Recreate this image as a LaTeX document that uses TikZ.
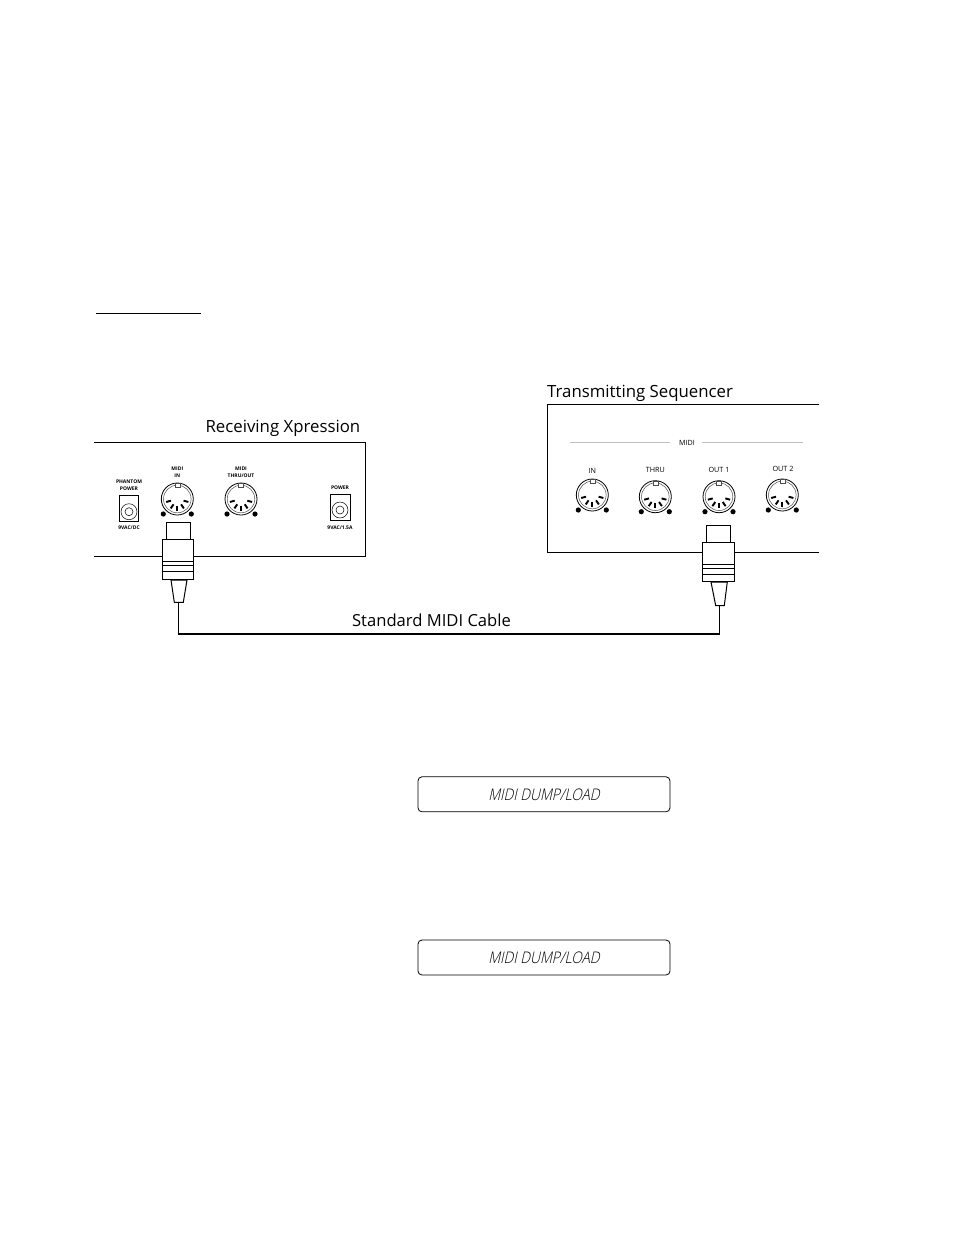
\documentclass[tikz,border=0pt]{standalone}
\usepackage{xcolor}
\usepackage{fontspec}
\setmainfont{Open Sans}
\newfontfamily\lcdfont[FakeSlant=0.22,FakeStretch=0.86]{Open Sans Light}
\usetikzlibrary{positioning,calc}
\tikzset{
  title/.style={inner sep=0pt,font=\fontsize{16.8}{17}\selectfont},
  tiny/.style={inner sep=0pt,align=center,font=\fontsize{7.2}{7.6}\selectfont},
  tinybold/.style={inner sep=0pt,align=center,font=\fontsize{5}{7.2}\bfseries\selectfont},
  lcd/.style={draw,line width=0.8pt,rounded corners=4pt,minimum width=252pt,minimum height=35pt,inner sep=0pt,font=\fontsize{16}{16}\lcdfont\selectfont},
  part/.style={draw,line width=1.1pt,inner sep=0pt,fill=white},
}
% five pin socket: name, x, y
\newcommand{\din}[3]{
  \coordinate (#1) at (#2,#3);
  \draw[line width=0.8pt] (#1) circle[radius=16];
  \draw[line width=0.5pt,black!70] (#1) circle[radius=13.8];
  \draw[line width=0.35pt,black!70,fill=white] ($(#1)+(-2.5,-15.5)$) rectangle ($(#1)+(2.5,-11.5)$);
  \foreach \a in {15,55,90,125,165}
    \draw[line width=1.9pt] ($(#1)+(\a:6.5)$) -- ($(#1)+(\a:11.5)$);
  \fill ($(#1)+(-14,15)$) circle[radius=2.6];
  \fill ($(#1)+(14,15)$) circle[radius=2.6];
}
\begin{document}
\begin{tikzpicture}[x=1pt,y=-1pt]
\useasboundingbox (0,0) rectangle (954,1235);
\fill[white] (0,0) rectangle (954,1235);
\draw[line width=0.9pt] (96,313) -- (201,313);

% receiving unit
\node[title,anchor=east] (recvtitle) at (360.5,428.5) {Receiving Xpression};
\draw[line width=1pt] (94,442.3) -- (365.7,442.3) -- (365.7,556.7) -- (94,556.7);
\node[tinybold] (phantomlabel) at (129,485.5) {PHANTOM\\POWER};
\node[draw,line width=0.7pt,minimum width=19.5pt,minimum height=26pt,inner sep=0pt] (phantomjack) at (129,508) {};
\draw[line width=0.5pt] (129,511.7) circle[radius=8];
\draw[line width=0.5pt] (129,511.7) circle[radius=4];
\node[tinybold] (phantomvolt) at (129,527.5) {9VAC/DC};
\node[tinybold] (midiinlabel) at (177.3,472.5) {MIDI\\IN};
\din{recvin}{177.3}{499}
\node[tinybold] (thruoutlabel) at (241,472.5) {MIDI\\THRU/OUT};
\din{recvthru}{241}{499}
\node[tinybold] (powerlabel) at (340,488) {POWER};
\node[draw,line width=0.7pt,minimum width=20pt,minimum height=26.5pt,inner sep=0pt] (powerjack) at (340,507.3) {};
\draw[line width=0.5pt] (340,510) circle[radius=8];
\draw[line width=0.5pt] (340,510) circle[radius=4];
\node[tinybold] (powervolt) at (340,527.5) {9VAC/1.5A};

% transmitting unit
\node[title,anchor=west] (sendtitle) at (547,393) {Transmitting Sequencer};
\draw[line width=1pt] (819,404.3) -- (547.3,404.3) -- (547.3,552.7) -- (819,552.7);
\node[tiny] (midilabel) at (687,442.7) {MIDI};
\draw[black!25,line width=0.5pt] (569.7,442.7) -- (669.7,442.7);
\draw[black!25,line width=0.5pt] (702,442.7) -- (802.7,442.7);
\node[tiny] (inlabel) at (592.3,471) {IN};
\node[tiny] (thrulabel) at (655.3,470) {THRU};
\node[tiny] (outonelabel) at (719,470) {OUT 1};
\node[tiny] (outtwolabel) at (783,468.5) {OUT 2};
\din{sendin}{592.3}{495}
\din{sendthru}{655.3}{496.7}
\din{sendout}{719}{496.7}
\din{sendouttwo}{782.3}{495}

% plugs
\node[part,minimum width=24.4pt,minimum height=16.5pt] (headl) at (178.5,530.8) {};
\node[part,minimum width=31.4pt,minimum height=40.3pt] (bodyl) at (178,559.2) {};
\draw[line width=1pt] (162.3,561) -- (193.7,561) (162.3,565.5) -- (193.7,565.5) (162.3,571.5) -- (193.7,571.5);
\draw[line width=1pt,fill=white] (171,580) -- (187,580) -- (183.3,602.3) -- (174.3,602.3) -- cycle;
\coordinate (tipl) at (178.7,602.3);
\node[part,minimum width=24pt,minimum height=16.6pt] (headr) at (718.7,534) {};
\node[part,minimum width=31.3pt,minimum height=39.4pt] (bodyr) at (718.4,562) {};
\draw[line width=1pt] (702.7,564) -- (734,564) (702.7,568) -- (734,568) (702.7,574.5) -- (734,574.5);
\draw[line width=1pt,fill=white] (711,582) -- (727.3,582) -- (724.3,605.5) -- (715.7,605.5) -- cycle;
\coordinate (tipr) at (719.7,605.5);

% cable
\coordinate (cornerl) at (178.7,634.4);
\coordinate (cornerr) at (719.7,634.4);
\draw[line width=1.1pt] (tipl) -- (cornerl);
\draw[line width=1.1pt] (tipr) -- (cornerr);
\draw[line width=2pt] ($(cornerl)+(-0.5,0)$) -- ($(cornerr)+(0.5,0)$);
\node[title,font=\fontsize{16.6}{17}\selectfont] (cablelabel) at (431.5,620) {Standard MIDI Cable};

% displays
\node[lcd] (lcdone) at (544,794.3) {MIDI DUMP/LOAD};
\node[lcd] (lcdtwo) at (544,957.5) {MIDI DUMP/LOAD};
\end{tikzpicture}
\end{document}
